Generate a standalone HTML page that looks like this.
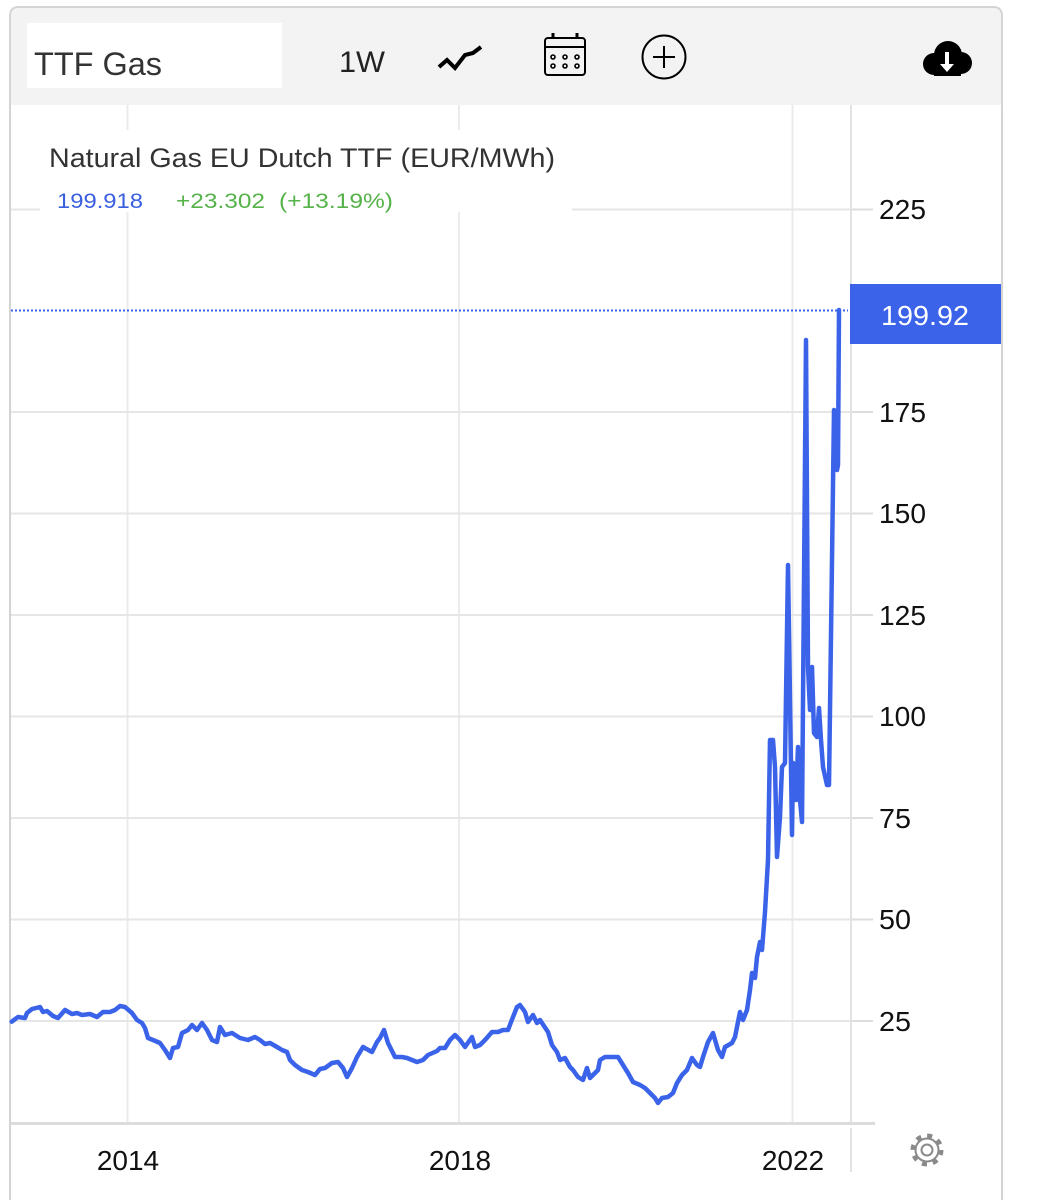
<!DOCTYPE html>
<html>
<head>
<meta charset="utf-8">
<style>
  html,body{margin:0;padding:0;background:#ffffff;}
  body{width:1042px;height:1200px;overflow:hidden;}
  svg{display:block;}
  text{font-family:"Liberation Sans", Arial, sans-serif;}
</style>
</head>
<body>
<svg width="1042" height="1200" viewBox="0 0 1042 1200" xmlns="http://www.w3.org/2000/svg">
  <!-- card -->
  <rect x="0" y="0" width="1042" height="1200" fill="#ffffff"/>
  <path d="M10,1202 L10,16 Q10,7 19,7 L993,7 Q1002,7 1002,16 L1002,1202" fill="#ffffff" stroke="#d4d4d4" stroke-width="2"/>
  <!-- toolbar -->
  <path d="M11,105 L11,17 Q11,8 20,8 L992,8 Q1001,8 1001,17 L1001,105 Z" fill="#f3f3f3"/>
  <rect x="27" y="23" width="255" height="65" fill="#ffffff"/>
  <text x="34" y="75" font-size="32" fill="#333333" textLength="128" lengthAdjust="spacingAndGlyphs">TTF Gas</text>
  <text x="339" y="72" font-size="30" fill="#222222" textLength="46" lengthAdjust="spacingAndGlyphs">1W</text>
  <!-- chart icon -->
  <polyline points="439,67 447,60 455,68 465,55 473,53 481,47" fill="none" stroke="#000" stroke-width="4" stroke-linejoin="miter"/>
  <!-- calendar icon -->
  <rect x="545" y="38" width="40" height="37" rx="3" fill="none" stroke="#000" stroke-width="2"/>
  <line x1="545" y1="47" x2="585" y2="47" stroke="#000" stroke-width="2"/>
  <rect x="551.5" y="33" width="3" height="6" fill="#000"/>
  <rect x="575.5" y="33" width="3" height="6" fill="#000"/>
  <g fill="none" stroke="#000" stroke-width="1.6">
    <circle cx="553" cy="57" r="2"/><circle cx="565" cy="57" r="2"/><circle cx="577" cy="57" r="2"/>
    <circle cx="553" cy="66" r="2"/><circle cx="565" cy="66" r="2"/><circle cx="577" cy="66" r="2"/>
  </g>
  <!-- plus circle -->
  <circle cx="664" cy="57" r="21.5" fill="none" stroke="#000" stroke-width="2"/>
  <line x1="653" y1="57" x2="675" y2="57" stroke="#000" stroke-width="2"/>
  <line x1="664" y1="46" x2="664" y2="68" stroke="#000" stroke-width="2"/>
  <!-- cloud download -->
  <g fill="#000">
    <circle cx="948" cy="55" r="14"/>
    <circle cx="934" cy="64" r="11"/>
    <circle cx="961" cy="63" r="11"/>
    <rect x="934" y="60" width="27" height="16"/>
  </g>
  <line x1="947" y1="52" x2="947" y2="66" stroke="#fff" stroke-width="4"/>
  <polygon points="940,64 954,64 947,72" fill="#fff"/>

  <!-- vertical gridlines -->
  <g stroke="#ebebeb" stroke-width="2">
    <line x1="127.5" y1="105" x2="127.5" y2="1122"/>
    <line x1="459" y1="105" x2="459" y2="1122"/>
    <line x1="792.5" y1="105" x2="792.5" y2="1122"/>
  </g>
  <!-- axis separator -->
  <line x1="851" y1="105" x2="851" y2="1122" stroke="#e2e2e2" stroke-width="2"/>
  <line x1="851" y1="1128" x2="851" y2="1172" stroke="#e2e2e2" stroke-width="2"/>

  <!-- horizontal gridlines -->
  <g stroke="#e6e6e6" stroke-width="2">
    <line x1="11" y1="209.5" x2="850" y2="209.5"/>
    <line x1="11" y1="412" x2="850" y2="412"/>
    <line x1="11" y1="513.5" x2="850" y2="513.5"/>
    <line x1="11" y1="615" x2="850" y2="615"/>
    <line x1="11" y1="716.5" x2="850" y2="716.5"/>
    <line x1="11" y1="818" x2="850" y2="818"/>
    <line x1="11" y1="919.5" x2="850" y2="919.5"/>
    <line x1="11" y1="1021" x2="850" y2="1021"/>
  </g>
  <g stroke="#dddddd" stroke-width="2">
    <line x1="852" y1="209.5" x2="873" y2="209.5"/>
    <line x1="852" y1="412" x2="873" y2="412"/>
    <line x1="852" y1="513.5" x2="873" y2="513.5"/>
    <line x1="852" y1="615" x2="873" y2="615"/>
    <line x1="852" y1="716.5" x2="873" y2="716.5"/>
    <line x1="852" y1="818" x2="873" y2="818"/>
    <line x1="852" y1="919.5" x2="873" y2="919.5"/>
    <line x1="852" y1="1021" x2="873" y2="1021"/>
  </g>
  <!-- bottom axis -->
  <line x1="11" y1="1123.5" x2="875" y2="1123.5" stroke="#dcdcdc" stroke-width="3"/>

  <!-- legend box -->
  <rect x="40" y="130" width="532" height="82" fill="#ffffff"/>
  <text x="49" y="167" font-size="27" fill="#333333" textLength="506" lengthAdjust="spacingAndGlyphs">Natural Gas EU Dutch TTF (EUR/MWh)</text>
  <text x="57" y="208" font-size="21" fill="#3a5fe0" textLength="86" lengthAdjust="spacingAndGlyphs">199.918</text>
  <text x="176" y="208" font-size="21" fill="#55b349" textLength="89" lengthAdjust="spacingAndGlyphs">+23.302</text>
  <text x="279" y="208" font-size="21" fill="#55b349" textLength="114" lengthAdjust="spacingAndGlyphs">(+13.19%)</text>

  <!-- y labels -->
  <g font-size="28" fill="#111111">
    <text x="879" y="219" textLength="47" lengthAdjust="spacingAndGlyphs">225</text>
    <text x="879" y="422" textLength="47" lengthAdjust="spacingAndGlyphs">175</text>
    <text x="879" y="523" textLength="47" lengthAdjust="spacingAndGlyphs">150</text>
    <text x="879" y="625" textLength="47" lengthAdjust="spacingAndGlyphs">125</text>
    <text x="879" y="726" textLength="47" lengthAdjust="spacingAndGlyphs">100</text>
    <text x="879" y="828" textLength="32" lengthAdjust="spacingAndGlyphs">75</text>
    <text x="879" y="929" textLength="32" lengthAdjust="spacingAndGlyphs">50</text>
    <text x="879" y="1031" textLength="32" lengthAdjust="spacingAndGlyphs">25</text>
  </g>

  <!-- x labels -->
  <g font-size="28" fill="#111111" text-anchor="middle">
    <text x="128" y="1170">2014</text>
    <text x="460" y="1170">2018</text>
    <text x="793" y="1170">2022</text>
  </g>

  <!-- gear -->
  <g transform="translate(927,1150)">
    <circle r="14" fill="none" stroke="#8a8a8a" stroke-width="5" stroke-dasharray="5 6"/>
    <circle r="11.5" fill="#ffffff" stroke="#8a8a8a" stroke-width="2"/>
    <circle r="5.5" fill="none" stroke="#8a8a8a" stroke-width="2"/>
  </g>

  <!-- dotted last value line -->
  <line x1="11" y1="310.5" x2="848" y2="310.5" stroke="#3a63e9" stroke-width="2" stroke-dasharray="2 2"/>

  <!-- series -->
  <polyline fill="none" stroke="#3a63e9" stroke-width="4.5" stroke-linejoin="round" stroke-linecap="round" points="
11.7,1021.7 18,1017 25,1018 27,1013 32,1009 40,1007 43,1012 47,1011 53,1016 58,1018 65,1010 72,1014 77,1013 82,1015 90,1014 97,1017 103,1012 110,1012 115,1010 120,1006 125,1007 132,1013 137,1020 142,1023 145,1028 148,1038 153,1040 160,1043 165,1050 170,1058 173,1048 178,1047 182,1033 188,1030 192,1025 197,1030 202,1023 207,1030 212,1040 217,1042 220,1027 225,1035 232,1033 240,1038 248,1040 255,1037 260,1040 265,1044 270,1043 277,1047 282,1050 287,1052 290,1060 295,1065 302,1070 308,1072 315,1075 320,1069 325,1068 332,1063 338,1062 343,1068 347,1077
352,1068 357,1057 363,1047 372,1052 377,1042 380,1038 384,1030 388,1043 395,1057 402,1057 407,1058 417,1062 423,1060 428,1055 437,1051 440,1048 445,1048 450,1040 455,1035 460,1040 465,1047 472,1037 475,1047 480,1045 485,1040 492,1032 498,1032 503,1030 508,1030 513,1017 517,1007 520,1005 525,1012 528,1022 533,1015 537,1023 540,1020 548,1032 552,1045 557,1052 560,1060 565,1058 570,1067 573,1070 578,1077 583,1080 587,1068 590,1078 595,1073 598,1070 600,1060 605,1057 608,1057 613,1057 618,1057 623,1065 628,1073 633,1082 640,1085 645,1088 650,1093 655,1098 658,1103 662,1098 668,1097 673,1093 677,1083 682,1075 687,1070
692,1058 697,1065 700,1067 703,1057 708,1042 713,1033 718,1050 722,1057 725,1047 732,1043 735,1037 737,1027 740,1012 743,1020 747,1010 750,990 752,973 755,978 757,957 760,942 762,950 765,912 768,860 770,740 773,740 775,767 777,857 780,817 782,767 785,763 788,565 792,835 793,763 796,800 798,747 800,800 802,822 806,340 808,667 810,710 812,667 814,733 817,737 819,708 821,740 823,767 827,785 829,785 832,560 834,410 836,420 837,470 838,465 839,310"/>

  <!-- last value tag -->
  <rect x="850" y="284" width="151" height="60" fill="#3a63e9"/>
  <text x="881" y="325" font-size="28" fill="#ffffff" textLength="88" lengthAdjust="spacingAndGlyphs">199.92</text>
</svg>
</body>
</html>
